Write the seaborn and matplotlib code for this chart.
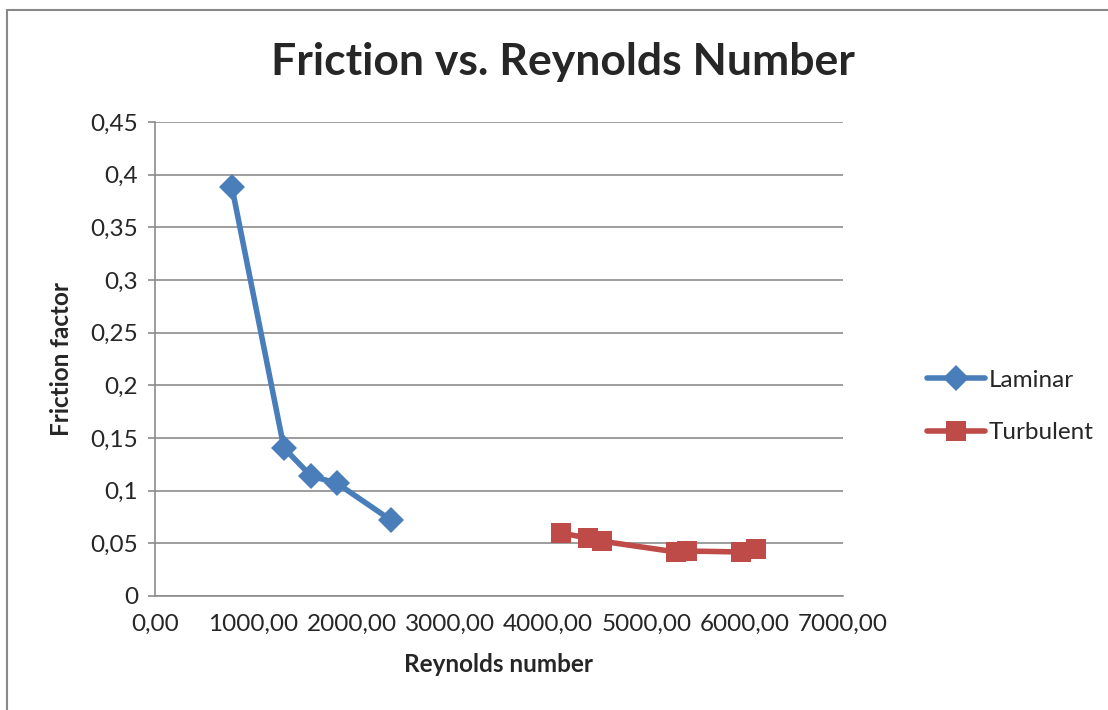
import matplotlib
matplotlib.use("Agg")
import matplotlib.pyplot as plt
import seaborn as sns
import pandas as pd
from matplotlib.patches import Rectangle
from matplotlib.ticker import FuncFormatter, MultipleLocator

# data
laminar_re = [783, 1312, 1587, 1852, 2401]
laminar_f = [0.388, 0.1405, 0.114, 0.107, 0.072]
turbulent_re = [4131, 4405, 4548, 5301, 5413, 5962, 6114]
turbulent_f = [0.0598, 0.055, 0.052, 0.0418, 0.0427, 0.0418, 0.0446]

df = pd.concat([
    pd.DataFrame({"Re": laminar_re, "f": laminar_f, "Flow": "Laminar"}),
    pd.DataFrame({"Re": turbulent_re, "f": turbulent_f, "Flow": "Turbulent"}),
])

sns.set_style("white")
plt.rcParams["font.family"] = ["Lato", "DejaVu Sans"]

fig = plt.figure(figsize=(11.08, 7.10), dpi=100)
ax = fig.add_axes([155 / 1108, 1 - 596 / 710, (843 - 155) / 1108, (596 - 122) / 710])

# outer chart border (only left/top visible in reference)
fig.patches.append(Rectangle((7 / 1108, -0.1), 1.2, 1 - 10 / 710 + 0.1,
                             transform=fig.transFigure, fill=False,
                             edgecolor="#888888", linewidth=1.5))

sns.lineplot(data=df, x="Re", y="f", hue="Flow", style="Flow",
             palette={"Laminar": "#4a7ebb", "Turbulent": "#be4b48"},
             markers={"Laminar": "D", "Turbulent": "s"},
             dashes=False, sort=False, linewidth=4,
             markersize=13, markeredgewidth=0, ax=ax)
for ln in ax.lines:
    if ln.get_marker() == "D":
        ln.set_markersize(13)
    elif ln.get_marker() == "s":
        ln.set_markersize(14)

ax.set_xlim(0, 7000)
ax.set_ylim(0, 0.45)
ax.xaxis.set_major_locator(MultipleLocator(1000))
ax.yaxis.set_major_locator(MultipleLocator(0.05))
ax.xaxis.set_major_formatter(FuncFormatter(lambda v, p: f"{v:.2f}".replace(".", ",")))
ax.yaxis.set_major_formatter(FuncFormatter(
    lambda v, p: ("%g" % round(v, 2)).replace(".", ",")))

ax.grid(axis="y", color="#8c8c8c", linewidth=1.2)
ax.grid(axis="x", visible=False)
ax.set_axisbelow(True)
for side in ["top", "right"]:
    ax.spines[side].set_visible(False)
for side in ["left", "bottom"]:
    ax.spines[side].set_color("#8c8c8c")
    ax.spines[side].set_linewidth(1.2)

ax.tick_params(axis="y", length=5, color="#8c8c8c", width=1.2, labelsize=17.5, pad=7, left=True)
ax.tick_params(axis="x", length=0, labelsize=17.5, pad=13)

ax.set_xlabel("Reynolds number", fontsize=17.5, fontweight="bold", labelpad=13)
ax.set_ylabel("Friction factor", fontsize=17.5, fontweight="bold", labelpad=13)
fig.text(563 / 1108, 1 - 62 / 710, "Friction vs. Reynolds Number",
         fontsize=32, fontweight="bold", ha="center", va="center")

leg = ax.legend(loc="center left", bbox_to_anchor=(1.09, 0.40), frameon=False,
                fontsize=17.5, handlelength=2.4, labelspacing=1.3, handletextpad=0.15)

fig.savefig("out.png", dpi=100, facecolor="white")
